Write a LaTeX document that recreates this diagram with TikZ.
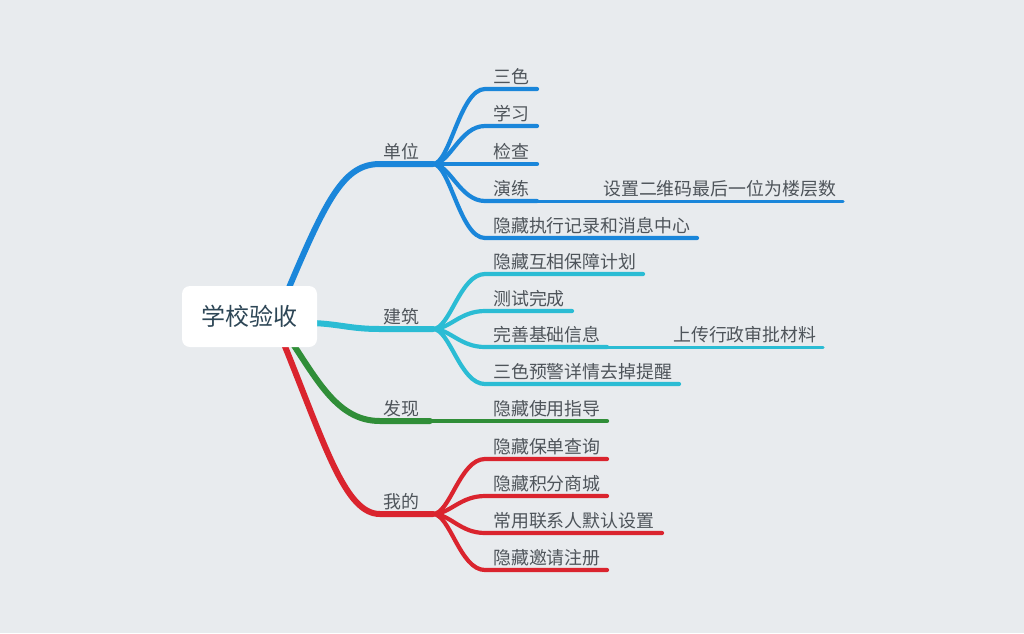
\documentclass[tikz,border=0pt]{standalone}
\usepackage{fontspec}
\setmainfont{Noto Sans CJK SC}
\definecolor{bg}{RGB}{232,235,238}
\definecolor{cblue}{RGB}{26,134,218}
\definecolor{ccyan}{RGB}{43,188,212}
\definecolor{cgreen}{RGB}{48,142,56}
\definecolor{cred}{RGB}{218,36,46}
\definecolor{txt}{RGB}{78,84,90}
\definecolor{roottxt}{RGB}{45,70,86}
\begin{document}
\begin{tikzpicture}[x=1pt,y=-1pt,
  lvlone/.style={line width=6pt,line cap=round},
  lvltwo/.style={line width=4.2pt,line cap=round},
  lvlthree/.style={line width=3pt,line cap=round},
  rootbox/.style={fill=white,rounded corners=8pt,minimum width=135pt,minimum height=61pt,inner sep=0pt,text=roottxt,font=\fontsize{24}{24}\selectfont},
  lbl/.style={anchor=base west,inner sep=0pt,text=txt,font=\fontsize{17.9}{17.9}\selectfont}]
\fill[bg] (0,0) rectangle (1024,633);
\useasboundingbox (0,0) rectangle (1024,633);
% hubs and root-side anchors
\coordinate (rA) at (288,290);
\coordinate (rB) at (312,323);
\coordinate (rC) at (293,344);
\coordinate (rD) at (284,344);
\coordinate (hA) at (433,164);
\coordinate (hB) at (433,329);
\coordinate (hC) at (430,421);
\coordinate (hD) at (433,514);
\coordinate (bA) at (380,164);
\coordinate (bB) at (380,329);
\coordinate (bC) at (380,421);
\coordinate (bD) at (380,514);
% main branches
\draw[lvlone,cblue] (rA) .. controls (328,195) and (345,164) .. (bA) -- (hA);
\draw[lvlone,ccyan] (rB) .. controls (340,324) and (350,329) .. (bB) -- (hB);
\draw[lvlone,cgreen] (rC) .. controls (320,385) and (340,421) .. (bC) -- (hC);
\draw[lvlone,cred] (rD) .. controls (325,445) and (345,514) .. (bD) -- (hD);
% children
\foreach \n/\y/\e in {a1/89/537,a2/126/537,a3/164/537,a4/201/537,a5/238/697}{
  \coordinate (c\n) at (485,\y); \coordinate (e\n) at (\e,\y);
  \draw[lvltwo,cblue] (hA) .. controls +(17,0) and +(-25,0) .. (c\n) -- (e\n);}
\foreach \n/\y/\e in {b1/274/643,b2/311/572,b3/347/607,b4/384/679}{
  \coordinate (c\n) at (485,\y); \coordinate (e\n) at (\e,\y);
  \draw[lvltwo,ccyan] (hB) .. controls +(17,0) and +(-25,0) .. (c\n) -- (e\n);}
\foreach \n/\y/\e in {d1/459/607,d2/496/607,d3/533/662,d4/570/607}{
  \coordinate (c\n) at (485,\y); \coordinate (e\n) at (\e,\y);
  \draw[lvltwo,cred] (hD) .. controls +(17,0) and +(-25,0) .. (c\n) -- (e\n);}
\coordinate (ec1) at (607,421);
\draw[lvltwo,cgreen] (hC) -- (ec1);
% third level
\coordinate (fa4) at (843,201);
\coordinate (fb3) at (823,347);
\draw[lvlthree,cblue] (ea4) -- (fa4);
\draw[lvlthree,ccyan] (eb3) -- (fb3);
% root
\node[rootbox] (root) at (249.5,316.5) {学校验收};
% level one labels
\node[lbl] (tA) at (383,158) {单位};
\node[lbl] (tB) at (383,323) {建筑};
\node[lbl] (tC) at (383,415) {发现};
\node[lbl] (tD) at (383,508) {我的};
% level two labels
\node[lbl] (ta1) at (493,83) {三色};
\node[lbl] (ta2) at (493,120) {学习};
\node[lbl] (ta3) at (493,158) {检查};
\node[lbl] (ta4) at (493,195) {演练};
\node[lbl] (ta5) at (493,232) {隐藏执行记录和消息中心};
\node[lbl] (tb1) at (493,268) {隐藏互相保障计划};
\node[lbl] (tb2) at (493,305) {测试完成};
\node[lbl] (tb3) at (493,341) {完善基础信息};
\node[lbl] (tb4) at (493,378) {三色预警详情去掉提醒};
\node[lbl] (tc1) at (493,415) {隐藏使用指导};
\node[lbl] (td1) at (493,453) {隐藏保单查询};
\node[lbl] (td2) at (493,490) {隐藏积分商城};
\node[lbl] (td3) at (493,527) {常用联系人默认设置};
\node[lbl] (td4) at (493,564) {隐藏邀请注册};
% level three labels
\node[lbl] (ga4) at (603,195) {设置二维码最后一位为楼层数};
\node[lbl] (gb3) at (673,341) {上传行政审批材料};
\end{tikzpicture}
\end{document}
